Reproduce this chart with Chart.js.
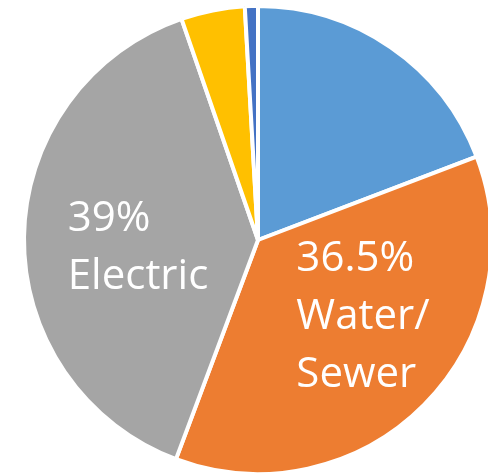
<!DOCTYPE html>
<html>
<head>
<meta charset="utf-8">
<script src="https://cdn.jsdelivr.net/npm/chart.js@4"></script>
<style>
  html, body { margin: 0; padding: 0; background: #fff; overflow: hidden; }
  #wrap { position: relative; width: 516px; height: 476px; }
</style>
</head>
<body>
<div id="wrap"><canvas id="pieChart"></canvas></div>
<script>
const categories = ['Other', 'Water/Sewer', 'Electric', 'Gas', 'Misc'];
const shares = [19.2, 36.5, 39, 4.4, 0.9];
const sliceColors = ['#5B9BD5', '#ED7D31', '#A5A5A5', '#FFC000', '#4472C4'];
// text drawn inside slices (null = no label)
const sliceLabels = [null, ['36.5%', 'Water/', 'Sewer'], ['39%', 'Electric'], null, null];

// Writes the multi-line labels into their slices, left aligned
const sliceText = {
    id: 'sliceText',
    afterDatasetsDraw(chart) {
        const ctx = chart.ctx;
        const arcs = chart.getDatasetMeta(0).data;
        ctx.save();
        ctx.font = '42px "Open Sans", sans-serif';
        ctx.fillStyle = '#fff';
        ctx.textAlign = 'left';
        ctx.textBaseline = 'alphabetic';
        const lineH = 58;
        const capH = 30;
        arcs.forEach((arc, i) => {
            const lines = sliceLabels[i];
            if (!lines) return;
            const pos = arc.tooltipPosition();
            const w = Math.max(...lines.map(l => ctx.measureText(l).width));
            const h = (lines.length - 1) * lineH + capH;
            // small nudges so the blocks sit where the original put them
            const x = pos.x - w / 2 + (i === 1 ? 22 : -3);
            let y = pos.y - h / 2 + capH + (i === 1 ? -8 : 6);
            lines.forEach(l => {
                ctx.fillText(l, x, y);
                y += lineH;
            });
        });
        ctx.restore();
    }
};

new Chart(document.getElementById('pieChart'), {
    type: 'pie',
    data: {
        labels: categories,
        datasets: [{
            data: shares,
            backgroundColor: sliceColors,
            borderColor: '#fff',
            borderWidth: 4
        }]
    },
    options: {
        responsive: true,
        maintainAspectRatio: false,
        animation: false,
        layout: { padding: { top: 4, bottom: 0, left: 0, right: 0 } },
        plugins: {
            legend: { display: false },
            tooltip: { enabled: false }
        }
    },
    plugins: [sliceText]
});
</script>
</body>
</html>
